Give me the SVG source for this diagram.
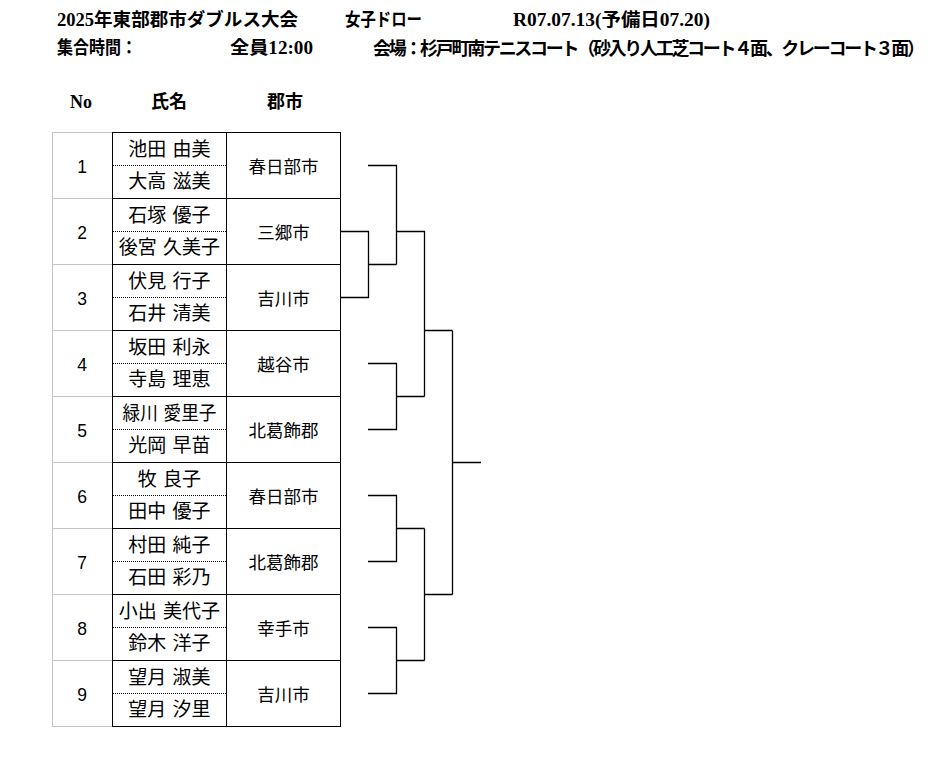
<svg xmlns="http://www.w3.org/2000/svg" width="938" height="760" viewBox="0 0 938 760">
<style>
.hd{font-family:"Liberation Serif","Noto Sans CJK JP",serif;font-size:18px;font-weight:bold;fill:#000}
.ch{font-family:"Liberation Serif","Noto Sans CJK JP",serif;font-size:18px;font-weight:bold;fill:#000;text-anchor:middle}
.no{font-family:"Liberation Sans","Noto Sans CJK JP",sans-serif;font-size:17.5px;fill:#000;text-anchor:middle}
.nm{font-family:"Noto Sans CJK JP",sans-serif;font-size:19px;fill:#000;text-anchor:middle;word-spacing:2px}
.ct{font-family:"Noto Sans CJK JP",sans-serif;font-size:17.5px;fill:#000;text-anchor:middle}
.gray{stroke:#c4c4c4;stroke-width:1;fill:none}
.blk{stroke:#000;stroke-width:1;fill:none}
.dot{stroke:#000;stroke-width:1;stroke-dasharray:1 1;fill:none}
.br{stroke:#000;stroke-width:1.3;fill:none}
</style>
<rect width="938" height="760" fill="#fff"/>
<g id="header">
<text class="hd" x="57" y="26" textLength="241" lengthAdjust="spacingAndGlyphs">2025年東部郡市ダブルス大会</text>
<text class="hd" x="345" y="26" textLength="77" lengthAdjust="spacingAndGlyphs">女子ドロー</text>
<text class="hd" x="513" y="26" textLength="197" lengthAdjust="spacingAndGlyphs">R07.07.13(予備日07.20)</text>
<text class="hd" x="57" y="54" textLength="80" lengthAdjust="spacingAndGlyphs">集合時間：</text>
<text class="hd" x="230" y="54" textLength="83" lengthAdjust="spacingAndGlyphs">全員12:00</text>
<text class="hd" x="373" y="55" font-size="15.6" textLength="552" lengthAdjust="spacing">会場：杉戸町南テニスコート（砂入り人工芝コート４面、クレーコート３面）</text>
</g>
<g id="column-headers">
<text class="ch" x="81" y="108">No</text>
<text class="ch" x="169" y="108">氏名</text>
<text class="ch" x="285" y="108">郡市</text>
</g>
<g id="table-grid">
<path class="gray" d="M52.5,132 V726.5 M52,132.5 H112 M52,198.5 H112 M52,264.5 H112 M52,330.5 H112 M52,396.5 H112 M52,462.5 H112 M52,528.5 H112 M52,594.5 H112 M52,660.5 H112 M52,726.5 H112"/>
<path class="blk" d="M112.5,132 V727 M226.5,132 V727 M340.5,132 V727 M112,132.5 H341 M112,198.5 H341 M112,264.5 H341 M112,330.5 H341 M112,396.5 H341 M112,462.5 H341 M112,528.5 H341 M112,594.5 H341 M112,660.5 H341 M112,726.5 H341"/>
<path class="dot" d="M113,165.5 H226 M113,231.5 H226 M113,297.5 H226 M113,363.5 H226 M113,429.5 H226 M113,495.5 H226 M113,561.5 H226 M113,627.5 H226 M113,693.5 H226"/>
</g>
<g id="entry-1">
<text class="no" x="82" y="173">1</text>
<text class="nm" x="169.5" y="155.5">池田 由美</text>
<text class="nm" x="169.5" y="187.5">大高 滋美</text>
<text class="ct" x="283.5" y="173">春日部市</text>
</g>
<g id="entry-2">
<text class="no" x="82" y="239">2</text>
<text class="nm" x="169.5" y="221.5">石塚 優子</text>
<text class="nm" x="169.5" y="253.5">後宮 久美子</text>
<text class="ct" x="283.5" y="239">三郷市</text>
</g>
<g id="entry-3">
<text class="no" x="82" y="305">3</text>
<text class="nm" x="169.5" y="287.5">伏見 行子</text>
<text class="nm" x="169.5" y="319.5">石井 清美</text>
<text class="ct" x="283.5" y="305">吉川市</text>
</g>
<g id="entry-4">
<text class="no" x="82" y="371">4</text>
<text class="nm" x="169.5" y="353.5">坂田 利永</text>
<text class="nm" x="169.5" y="385.5">寺島 理恵</text>
<text class="ct" x="283.5" y="371">越谷市</text>
</g>
<g id="entry-5">
<text class="no" x="82" y="437">5</text>
<text class="nm" x="169.5" y="419.5" textLength="94" lengthAdjust="spacingAndGlyphs">緑川 愛里子</text>
<text class="nm" x="169.5" y="451.5">光岡 早苗</text>
<text class="ct" x="283.5" y="437">北葛飾郡</text>
</g>
<g id="entry-6">
<text class="no" x="82" y="503">6</text>
<text class="nm" x="169.5" y="485.5">牧 良子</text>
<text class="nm" x="169.5" y="517.5">田中 優子</text>
<text class="ct" x="283.5" y="503">春日部市</text>
</g>
<g id="entry-7">
<text class="no" x="82" y="569">7</text>
<text class="nm" x="169.5" y="551.5">村田 純子</text>
<text class="nm" x="169.5" y="583.5">石田 彩乃</text>
<text class="ct" x="283.5" y="569">北葛飾郡</text>
</g>
<g id="entry-8">
<text class="no" x="82" y="635">8</text>
<text class="nm" x="169.5" y="617.5">小出 美代子</text>
<text class="nm" x="169.5" y="649.5">鈴木 洋子</text>
<text class="ct" x="283.5" y="635">幸手市</text>
</g>
<g id="entry-9">
<text class="no" x="82" y="701">9</text>
<text class="nm" x="169.5" y="683.5">望月 淑美</text>
<text class="nm" x="169.5" y="715.5">望月 汐里</text>
<text class="ct" x="283.5" y="701">吉川市</text>
</g>
<g id="connectors">
<path class="br" d="M341,231.5 H368.5 V297.5 H341 M368.5,264.5 H396.5"/>
<path class="br" d="M368,165.5 H396.5 V264.5 M396.5,231.5 H424.5 V396.5 M424.5,330.5 H452.5"/>
<path class="br" d="M368,363.5 H396.5 V429.5 H368 M396.5,396.5 H424.5"/>
<path class="br" d="M368,495.5 H396.5 V561.5 H368 M396.5,528.5 H424.5"/>
<path class="br" d="M368,627.5 H396.5 V693.5 H368 M396.5,660.5 H424.5"/>
<path class="br" d="M424.5,528.5 V660.5 M424.5,594.5 H452.5"/>
<path class="br" d="M452.5,330.5 V594.5 M452.5,462.5 H481"/>
</g>
</svg>
